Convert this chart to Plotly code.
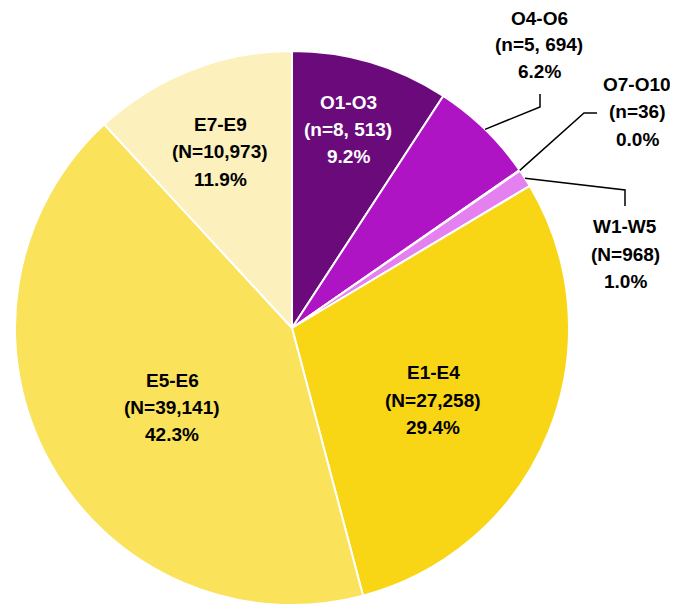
import math
import plotly.graph_objects as go

labels = ["O1-O3", "O4-O6", "O7-O10", "W1-W5", "E1-E4", "E5-E6", "E7-E9"]
counts = [8513, 5694, 36, 968, 27258, 39141, 10973]
nletter = ["n", "n", "n", "N", "N", "N", "N"]
count_text = ["8, 513", "5, 694", "36", "968", "27,258", "39,141", "10,973"]
pct_text = ["9.2%", "6.2%", "0.0%", "1.0%", "29.4%", "42.3%", "11.9%"]
colors = ["#6B0B7B", "#AE14C4", "#D35BE3", "#E480F0", "#F8D616", "#FAE25A", "#FCF0BC"]
text_colors = ["white", "black", "black", "black", "black", "black", "black"]

OFF = 8  # browser body margin
W, H = 678 - OFF, 605 - OFF
cx, cy, R = 292, 328, 277  # page pixels

# label centre positions (page pixels, middle line)
label_pos = {
    "O1-O3": (348, 130), "O4-O6": (539, 45), "O7-O10": (637, 112),
    "W1-W5": (625, 254), "E1-E4": (433, 400), "E5-E6": (172, 407), "E7-E9": (220, 152),
}
# leader elbows (page pixels)
leaders = {
    "O4-O6": [(540, 107), (540, 94)],
    "O7-O10": [(584, 113), (597, 113)],
    "W1-W5": [(625, 190), (625, 206)],
}
LINE_GAP = 27

def px2paper(x, y):
    return (x - OFF) / W, 1 - (y - OFF) / H

x0, y1 = px2paper(cx - R, cy - R)
x1, y0 = px2paper(cx + R, cy + R)

fig = go.Figure(go.Pie(
    labels=labels, values=counts, sort=False, direction="clockwise", rotation=0,
    marker=dict(colors=colors, line=dict(color="white", width=2)),
    textinfo="none", hoverinfo="label+value+percent",
    domain=dict(x=[x0, x1], y=[y0, y1]),
    showlegend=False,
))

total = sum(counts)
cum = 0
shapes = []
annotations = []
for i, lab in enumerate(labels):
    mid = (cum + counts[i] / 2) / total * 2 * math.pi
    cum += counts[i]
    lines = [lab, f"({nletter[i]}={count_text[i]})", pct_text[i]]
    x, y = label_pos[lab]
    for k, line in enumerate(lines):
        px, py = px2paper(x, y + (k - 1) * LINE_GAP)
        annotations.append(dict(
            x=px, y=py, xref="paper", yref="paper", text=f"<b>{line}</b>", showarrow=False,
            font=dict(family="Liberation Sans, Arial", size=19, color=text_colors[i]),
            align="center", xanchor="center", yanchor="middle",
        ))
    if lab in leaders:
        pts = [(cx + R * math.sin(mid), cy - R * math.cos(mid))] + leaders[lab]
        path = "M " + " L ".join(f"{px2paper(a, b)[0]},{px2paper(a, b)[1]}" for a, b in pts)
        shapes.append(dict(type="path", path=path, xref="paper", yref="paper",
                           line=dict(color="black", width=1.5)))

fig.update_layout(
    width=W, height=H, margin=dict(l=0, r=0, t=0, b=0),
    paper_bgcolor="white", plot_bgcolor="white",
    annotations=annotations, shapes=shapes,
    font=dict(family="Liberation Sans, Arial"),
)
fig.write_html("out.html")
